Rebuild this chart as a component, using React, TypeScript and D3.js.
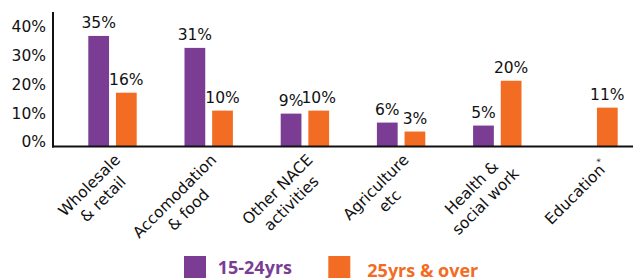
import { useEffect, useRef } from 'react';
import * as d3 from 'd3';

const categories = [
  'Wholesale\n& retail',
  'Accomodation\n& food',
  'Other NACE\nactivities',
  'Agriculture\netc',
  'Health &\nsocial work',
  'Education*',
];
const seriesNames = ['15-24yrs', '25yrs & over'];
const youth: (number | null)[] = [35, 31, 9, 6, 5, null];
const older: (number | null)[] = [16, 10, 10, 3, 20, 11];
const yTicks = [0, 10, 20, 30, 40];

const colors = ['#7b3d94', '#f26c23'];

export default function App() {
  const svgRef = useRef<SVGSVGElement>(null);

  useEffect(() => {
    if (!svgRef.current) return;
    const svg = d3.select(svgRef.current);
    svg.selectAll('*').remove();

    const font = 'DejaVu Sans, sans-serif';
    const baseY = 146.5;
    const axisX = 53;

    // bars use this scale, tick labels sit on their own slightly offset scale
    const y = d3.scaleLinear().domain([0, 40]).range([140.5, 21]);
    const yTickScale = d3.scaleLinear().domain([0, 40]).range([142, 27]);

    const x0 = d3.scaleBand<string>()
      .domain(categories)
      .range([64.4, 641.6])
      .padding(0);
    const groupW = 48.4;
    const x1 = d3.scaleBand<string>()
      .domain(seriesNames)
      .range([0, groupW])
      .paddingInner(0.25);
    const offset = (x0.bandwidth() - groupW) / 2;

    const series = [youth, older];

    // bars + value labels
    series.forEach((vals, si) => {
      const pts = categories
        .map((c, i) => ({ c, v: vals[i] }))
        .filter(d => d.v !== null) as { c: string; v: number }[];

      svg.append('g')
        .selectAll('rect')
        .data(pts)
        .enter().append('rect')
        .attr('x', d => x0(d.c)! + offset + x1(seriesNames[si])!)
        .attr('y', d => y(d.v))
        .attr('width', x1.bandwidth())
        .attr('height', d => baseY - y(d.v))
        .attr('fill', colors[si]);

      svg.append('g')
        .selectAll('text')
        .data(pts)
        .enter().append('text')
        .attr('x', d => x0(d.c)! + offset + x1(seriesNames[si])! + x1.bandwidth() / 2)
        .attr('y', d => y(d.v) - 8)
        .attr('text-anchor', 'middle')
        .style('font-family', font)
        .style('font-size', '15.5px')
        .attr('fill', '#111')
        .text(d => `${d.v}%`);
    });

    // y axis labels
    const yAxis = svg.append('g')
      .attr('transform', `translate(${axisX},0)`)
      .call(d3.axisLeft(yTickScale).tickValues(yTicks).tickSize(0).tickPadding(7).tickFormat(d => `${d}%`));
    yAxis.select('.domain').remove();
    yAxis.selectAll('text')
      .style('font-family', font)
      .style('font-size', '15.5px')
      .attr('fill', '#111');

    // axis lines
    svg.append('line')
      .attr('x1', axisX).attr('x2', axisX)
      .attr('y1', 12).attr('y2', baseY + 1)
      .attr('stroke', '#111').attr('stroke-width', 2);
    svg.append('line')
      .attr('x1', axisX - 1).attr('x2', 633)
      .attr('y1', baseY).attr('y2', baseY)
      .attr('stroke', '#111').attr('stroke-width', 2);

    // rotated category labels, lines centred, longest line ending at the tick
    const lh = 19.5;
    const u0 = -4;
    const v0 = 26;
    categories.forEach(c => {
      const cx = x0(c)! + x0.bandwidth() / 2;
      const g = svg.append('g')
        .attr('transform', `translate(${cx},${baseY}) rotate(-45)`);
      const lines = c.split('\n');
      const texts = lines.map((ln, i) => {
        const t = g.append('text')
          .attr('text-anchor', 'middle')
          .attr('y', v0 + (i - (lines.length - 1) / 2) * lh)
          .style('font-family', font)
          .style('font-size', '15.5px')
          .attr('fill', '#111');
        if (ln.endsWith('*')) {
          t.append('tspan').text(ln.slice(0, -1));
          t.append('tspan').attr('dy', -8).style('font-size', '9px').text('*');
        } else {
          t.text(ln);
        }
        return t;
      });
      const maxLen = d3.max(texts, t => (t.node() as SVGTextElement).getComputedTextLength()) ?? 0;
      texts.forEach(t => t.attr('x', u0 - maxLen / 2));
    });

    // legend
    const legendX = [184, 328.3];
    const textX = [217.7, 367.3];
    const textY = [274, 276.5];
    seriesNames.forEach((name, i) => {
      svg.append('rect')
        .attr('x', legendX[i]).attr('y', 256)
        .attr('width', 22).attr('height', 22)
        .attr('fill', colors[i]);
      svg.append('text')
        .attr('x', textX[i]).attr('y', textY[i])
        .style('font-family', 'Open Sans, sans-serif')
        .style('font-size', '18px')
        .style('font-weight', 700)
        .attr('fill', colors[i])
        .text(name);
    });
  }, []);

  return (
    <svg
      ref={svgRef}
      width={633}
      height={280}
      style={{ position: 'absolute', left: 0, top: 0, background: '#fff' }}
    ></svg>
  );
}
